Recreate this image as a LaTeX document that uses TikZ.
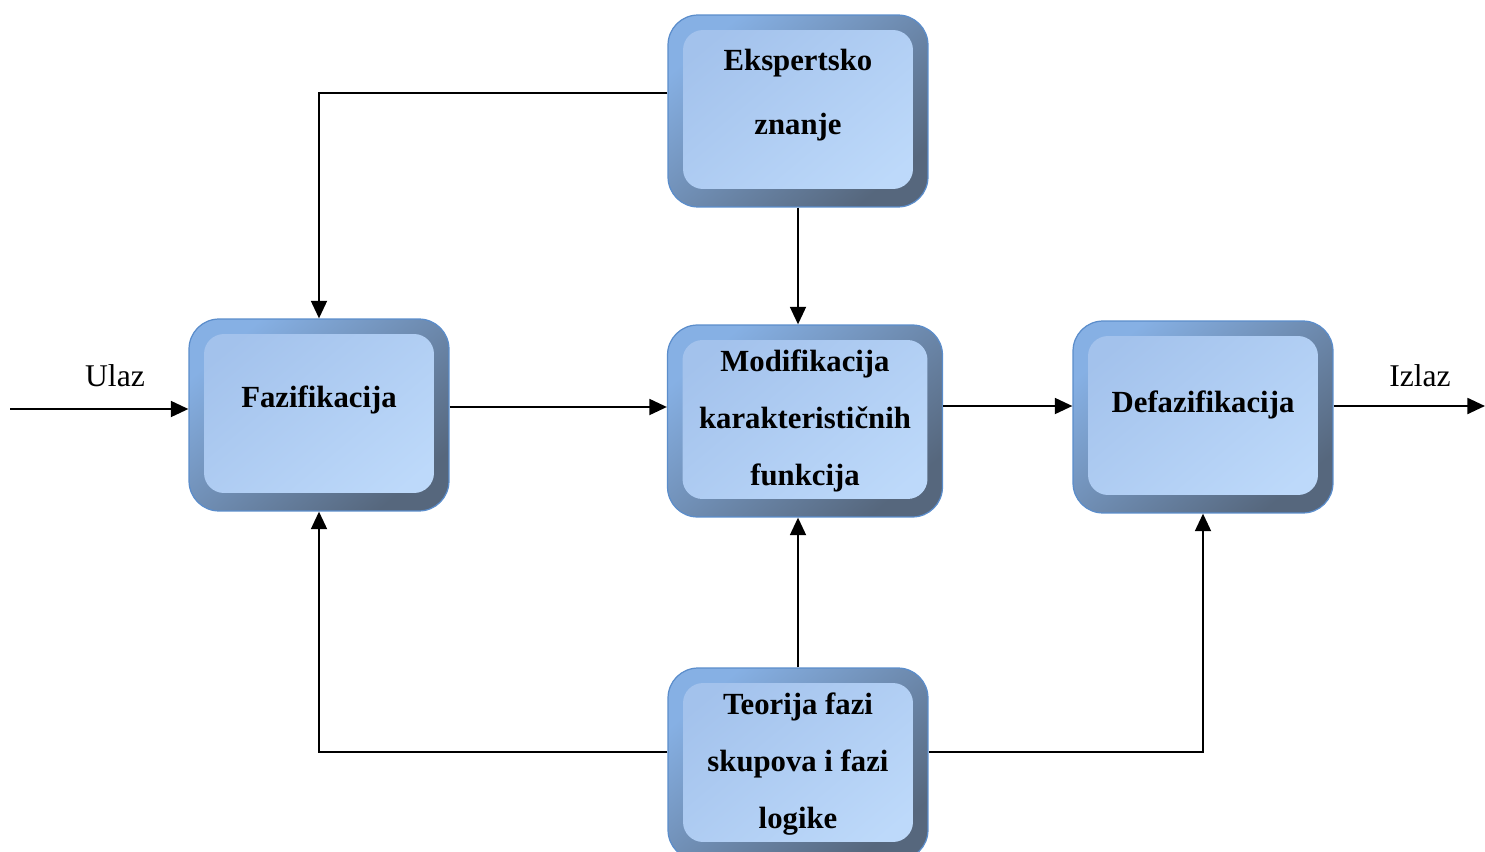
\documentclass[tikz,border=0pt]{standalone}
\usepackage{fontspec}
\setmainfont{Liberation Serif}
\usetikzlibrary{arrows.meta,positioning}
\definecolor{rimA}{HTML}{86B0E4}
\definecolor{rimB}{HTML}{56677D}
\definecolor{rimline}{HTML}{5B8DCB}
\definecolor{faceA}{HTML}{A3C2EC}
\definecolor{faceB}{HTML}{BDD9FA}
\tikzset{blok/.style={rectangle,rounded corners=0.6cm,draw=rimline,line width=0.7pt,
  top color=rimA,bottom color=rimB,shading angle=40,
  minimum width=5.2cm,minimum height=3.84cm,align=center,
  font=\fontsize{17.5}{32.5}\selectfont\bfseries,
  path picture={\shade[top color=faceA,bottom color=faceB,shading angle=40,rounded corners=0.4cm]
    ([shift={(0.3cm,0.36cm)}]path picture bounding box.south west) rectangle
    ([shift={(-0.3cm,-0.3cm)}]path picture bounding box.north east);}},
  veza/.style={line width=1.4pt,-{Triangle[length=10pt,width=9pt]}}}
\begin{document}
\begin{tikzpicture}[x=0.02cm,y=-0.02cm]
\useasboundingbox (0,0) rectangle (1485,852);
\node[blok,text depth=0.75cm] (Eksp) at (798,111) {Ekspertsko\\[4pt]znanje};
\node[blok,text depth=0.75cm] (Fazi) at (319,415) {Fazifikacija};
\node[blok,minimum width=5.5cm] (Modif) at (805,421) {Modifikacija\\karakterističnih\\funkcija};
\node[blok,text depth=0.6cm] (Defaz) at (1203,417) {Defazifikacija};
\node[blok] (Teor) at (798,764) {Teorija fazi\\skupova i fazi\\logike};
\node[font=\fontsize{18}{22}\selectfont] (ulazt) at (115,376) {Ulaz};
\node[font=\fontsize{18}{22}\selectfont] (izlazt) at (1420,376) {Izlaz};
\coordinate (ulaz) at (10,409);
\coordinate (izlaz) at (1485,406);
\draw[veza](ulaz)--(ulaz -| Fazi.west);
\draw[veza](Fazi.east |- 0,407)--(Modif.west |- 0,407);
\draw[veza](Modif.east |- 0,406)--(Defaz.west |- 0,406);
\draw[veza](Defaz.east |- izlaz)--(izlaz);
\draw[veza](Eksp.west |- 0,93)-|(Fazi.north);
\draw[veza](Eksp.south)--(Eksp.south |- Modif.north);
\draw[veza](Teor.north)--(Teor.north |- Modif.south);
\draw[veza](Teor.west |- 0,752)-|(Fazi.south);
\draw[veza](Teor.east |- 0,752)-|(Defaz.south);
\end{tikzpicture}
\end{document}
